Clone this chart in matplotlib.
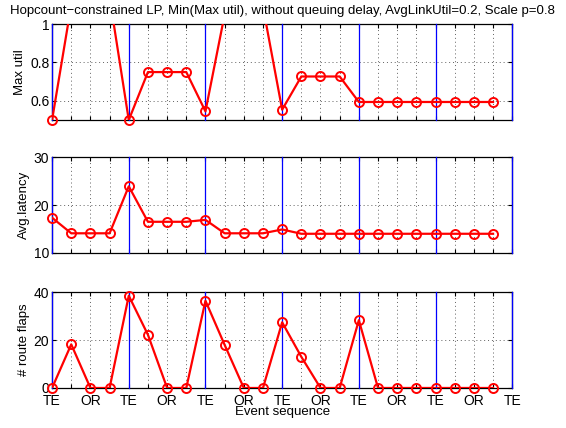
import numpy as np
import matplotlib.pyplot as plt

plt.rcParams['font.family'] = ['Liberation Sans', 'DejaVu Sans']

# event index 0..23, labels every other tick
events = np.arange(24)
tick_names = ['TE', 'OR'] * 6 + ['TE']
te_marks = [0, 4, 8, 12, 16, 20, 24]

max_util = [0.50, 1.10, 1.20, 1.14, 0.50, 0.75, 0.75, 0.75, 0.545, 1.05, 1.20, 1.09,
            0.554, 0.727, 0.727, 0.727, 0.594, 0.594, 0.594, 0.594, 0.594, 0.594, 0.594, 0.594]
avg_latency = [17.35, 14.1, 14.1, 14.1, 23.9, 16.5, 16.5, 16.5, 16.9, 14.1, 14.1, 14.1,
               14.9, 14.0, 14.0, 14.0, 14.0, 14.0, 14.0, 14.0, 14.0, 14.0, 14.0, 14.0]
route_flaps = [0, 18.2, 0, 0, 38.5, 22.2, 0, 0, 36.4, 18.0, 0, 0,
               27.4, 13.0, 0, 0, 28.3, 0, 0, 0, 0, 0, 0, 0]

fig = plt.figure(figsize=(5.66, 4.28), dpi=100)

panels = [
    (max_util, (0.5, 1.0), [0.6, 0.8, 1.0], ['0.6', '0.8', '1'], 'Max util', 0.7196),
    (avg_latency, (10, 30), [10, 20, 30], ['10', '20', '30'], 'Avg.latency', 0.409),
    (route_flaps, (0, 40), [0, 20, 40], ['0', '20', '40'], '# route flaps', 0.0935),
]

for k, (vals, ylim, yt, ytl, ylab, bot) in enumerate(panels):
    ax = fig.add_axes([0.092, bot, 0.813, 0.224])
    vals = np.array(vals)
    ax.set_xlim(0, 24)
    ax.set_ylim(*ylim)
    ax.set_xticks(np.arange(25))
    if k == 2:
        labs = []
        for i in range(25):
            labs.append(tick_names[i // 2] if i % 2 == 0 else '')
        ax.set_xticklabels(labs, fontsize=10)
        ax.set_xlabel('Event sequence', fontsize=9.5, labelpad=-1)
    else:
        ax.set_xticklabels([])
    ax.set_yticks(yt)
    ax.set_yticklabels(ytl, fontsize=10)
    ax.set_ylabel(ylab, fontsize=9.5, labelpad=3)
    ax.grid(True, linestyle=(0, (1, 3)), color='#606060', linewidth=0.7)
    ax.tick_params(direction='in', top=True, right=True, length=3, width=0.8, pad=2)
    ax.tick_params(axis='x', pad=4)
    for s in ax.spines.values():
        s.set_linewidth(0.9)
    for t in te_marks:
        ax.axvline(t, color='blue', linewidth=0.9, zorder=3, clip_on=False)
    ax.plot(events, vals, color='red', linewidth=1.6, zorder=4)
    inside = (vals >= ylim[0]) & (vals <= ylim[1])
    ax.plot(events[inside], vals[inside], 'o', markerfacecolor='none', markeredgecolor='red',
            markersize=6.5, markeredgewidth=1.4, zorder=5, clip_on=False)
    if k == 0:
        ax.set_title('Hopcount\u2212constrained LP, Min(Max util), without queuing delay, '
                     'AvgLinkUtil=0.2, Scale p=0.8', fontsize=9.5, pad=7)

fig.savefig('out.png', dpi=100)
